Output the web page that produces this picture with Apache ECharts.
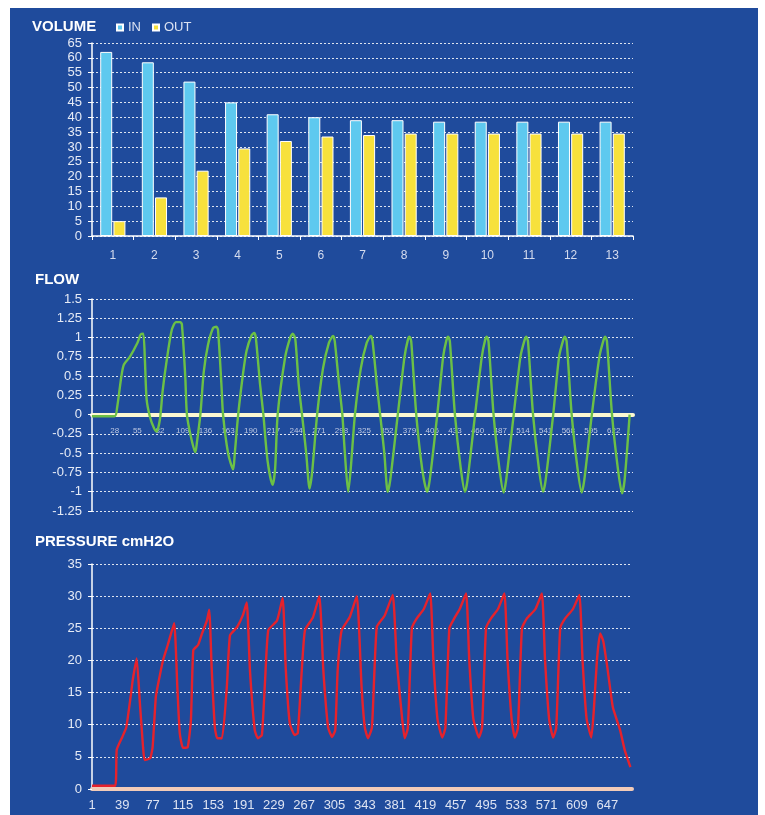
<!DOCTYPE html>
<html>
<head>
<meta charset="utf-8">
<script src="https://cdn.jsdelivr.net/npm/echarts@6/dist/echarts.min.js"></script>
<style>
html,body{margin:0;padding:0;background:#ffffff;}
#chart{width:765px;height:815px;}
</style>
</head>
<body>
<div id="chart"></div>
<script>
// ---------- DATA ----------
const volumeCategories = ['1','2','3','4','5','6','7','8','9','10','11','12','13'];
const volumeIn  = [62, 58.5, 52, 45, 41, 40, 39, 39, 38.5, 38.5, 38.5, 38.5, 38.5];
const volumeOut = [5, 13, 22, 29.5, 32, 33.5, 34, 34.5, 34.5, 34.5, 34.5, 34.5, 34.5];
const volumeTicks = [0, 65, 5];

const flowCount = 645;       // number of samples on the flow axis
const flowLabelStep = 27;    // 1, 28, 55, ...
const flowTicks = [-1.25, 1.5, 0.25];
// [sample index, flow] key points
const flowPoints = [
 [0,-0.02],[27,-0.02],[30,0.1],[35,0.5],[38,0.65],[45,0.75],[54,0.93],[58,1.04],[61,1.05],[63,0.7],[65,0.2],[69,-0.03],[74,-0.18],[77,-0.22],
 [81,-0.05],[84,0.3],[89,0.71],[95,1.1],[100,1.2],[105,1.2],[107,1.17],[111,0.5],[113,0],[118,-0.3],[123,-0.49],
 [125,-0.35],[129,0],[133,0.55],[138,0.9],[144,1.12],[148,1.14],[150,1.1],[154,0.4],[156,0],[162,-0.5],[168,-0.71],
 [170,-0.5],[174,0],[180,0.55],[184,0.83],[190,1.03],[193,1.06],[195,1.0],[200,0.4],[204,0],[209,-0.6],[215,-0.91],
 [218,-0.7],[221,0],[230,0.75],[236,1.0],[239,1.05],[242,0.98],[246,0.4],[250,0],[255,-0.5],[259,-0.96],
 [262,-0.75],[268,0],[275,0.6],[282,0.93],[287,1.02],[289,0.95],[294,0.4],[298,0],[301,-0.5],[305,-1.0],
 [308,-0.7],[313,0],[320,0.6],[327,0.93],[332,1.02],[334,0.95],[339,0.4],[343,0],[348,-0.5],[352,-1.0],
 [355,-0.85],[364,0],[372,0.75],[376,0.97],[378,1.01],[380,0.95],[386,0],[393,-0.7],[399,-1.0],
 [402,-0.85],[411,0],[418,0.75],[422,0.97],[424,1.01],[426,0.95],[432,0],[439,-0.7],[444,-1.0],
 [447,-0.85],[456,0],[464,0.75],[468,0.97],[470,1.01],[472,0.95],[478,0],[485,-0.7],[490,-1.01],
 [493,-0.85],[502,0],[510,0.75],[515,0.97],[517,1.01],[519,0.95],[525,0],[532,-0.7],[537,-1.0],
 [540,-0.85],[549,0],[556,0.75],[561,0.97],[563,1.01],[565,0.95],[571,0],[578,-0.7],[583,-1.01],
 [586,-0.85],[595,0],[604,0.75],[609,0.97],[611,1.01],[613,0.95],[619,0],[626,-0.7],[631,-1.02],
 [634,-0.85],[640,0]
];

const pressureCount = 678;   // number of samples on the pressure axis
const pressureLabelStep = 38; // 1, 39, 77, ...
const pressureTicks = [0, 35, 5];
// [sample index, cmH2O] key points
const pressurePoints = [
 [0,0.5],[29,0.5],[31,6.1],[38,8.1],[43,9.6],[49,14.9],[51,16.9],[56,20.3],[60,13.4],[64,6.5],[66,4.5],[73,4.8],[76,6.5],
 [80,14.3],[83,16.4],[89,20],[95,22.4],[103,25.8],[107,15.8],[110,8.7],[114,6.4],[120,6.5],[124,10.7],
 [127,21.6],[133,22.4],[138,24.2],[144,26.2],[147,27.9],[150,18.9],[154,9.6],[157,7.9],[163,7.9],
 [169,15.8],[173,23.9],[182,25.2],[189,27],[194,29],[198,18.5],[204,9.2],[208,7.9],[213,8.4],
 [217,16.9],[221,24.7],[232,26.2],[239,29.7],[243,18.5],[248,10.2],[254,8.4],[258,8.7],
 [263,18.5],[267,24.7],[277,26.7],[285,30],[290,18.5],[296,9.6],[301,8.1],[305,9.2],
 [308,18.5],[313,24.7],[323,26.7],[332,30],[338,15.8],[342,9.6],[346,7.9],[351,9.6],
 [357,25.2],[367,27],[377,30.2],[382,20],[389,10.7],[392,7.9],
 [396,9.5],[401,25],[407,26.5],[416,28],[424,30.4],[428,20],[433,11],[439,8],
 [443,9.5],[448,25],[454,26.5],[461,28],[469,30.4],[473,20],[478,11],[485,8],
 [489,9.5],[494,25],[500,26.5],[509,28],[517,30.4],[521,20],[526,11],[530,8],
 [534,9.5],[539,25],[545,26.5],[556,28],[564,30.4],[568,20],[573,11],[578,8],
 [582,9.5],[587,25],[593,26.5],[603,28],[611,30.2],[615,20],[620,11],[626,8],
 [629,12],[633,20],[637,24.2],[641,23],[646,19],[653,12.7],[662,9.2],[668,6],[675,3.4]
];

// ---------- CHART ----------
const flowCategories = Array.from({length: flowCount}, (_, i) => String(i + 1));
const pressureCategories = Array.from({length: pressureCount}, (_, i) => String(i + 1));

const FONT = 'Liberation Sans, Arial, sans-serif';
const labelColor = '#e6ebf6';
const titleStyle = {color: '#ffffff', fontSize: 15, fontWeight: 'bold', fontFamily: FONT};
const gridLine = {show: true, lineStyle: {color: 'rgba(255,255,255,0.85)', width: 1, type: [2, 2]}};
const yAxisBase = (gi, t) => ({
  type: 'value', gridIndex: gi, min: t[0], max: t[1], interval: t[2],
  axisLine: {show: true, lineStyle: {color: '#ffffff', width: 1.5}},
  axisTick: {show: true, length: 4, lineStyle: {color: '#ffffff', width: 1}},
  axisLabel: {color: labelColor, fontSize: 13, fontFamily: FONT, margin: 10},
  splitLine: gridLine
});

const chart = echarts.init(document.getElementById('chart'), null, {renderer: 'canvas'});
chart.setOption({
  backgroundColor: '#ffffff',
  animation: false,
  graphic: [{
    type: 'rect', z: -10, silent: true,
    shape: {x: 10, y: 8, width: 748, height: 815},
    style: {fill: '#1f4b9c'}
  }],
  title: [
    {text: 'VOLUME', left: 27, top: 14, textStyle: titleStyle},
    {text: 'FLOW', left: 30, top: 267, textStyle: titleStyle},
    {text: 'PRESSURE cmH2O', left: 30, top: 529, textStyle: titleStyle}
  ],
  legend: {
    left: 111, top: 16, itemWidth: 6, itemHeight: 6, itemGap: 11, icon: 'rect',
    textStyle: {color: '#dbe2f2', fontSize: 13, fontFamily: FONT},
    data: ['IN', 'OUT']
  },
  grid: [
    {left: 92, right: 132, top: 43, height: 193},
    {left: 92, right: 132, top: 299, height: 212},
    {left: 92, right: 133, top: 564, height: 225}
  ],
  xAxis: [
    {
      type: 'category', gridIndex: 0, data: volumeCategories,
      axisLine: {lineStyle: {color: '#ffffff', width: 1.5}},
      axisTick: {show: true, length: 4, lineStyle: {color: '#ffffff'}},
      axisLabel: {color: '#d5dcee', fontSize: 12, fontFamily: FONT, margin: 14}
    },
    {
      type: 'category', gridIndex: 1, data: flowCategories, boundaryGap: false,
      axisLine: {onZero: false, lineStyle: {color: '#fbf8d2', width: 4}},
      axisTick: {show: false},
      axisLabel: {
        color: '#bcc7e2', fontSize: 8, fontFamily: FONT, margin: 12,
        interval: (i) => i > 0 && i % flowLabelStep === 0
      }
    },
    {
      type: 'category', gridIndex: 2, data: pressureCategories, boundaryGap: false,
      axisLine: {lineStyle: {color: '#f2cbb8', width: 4}},
      axisTick: {show: false},
      axisLabel: {
        color: '#dde3f2', fontSize: 13, fontFamily: FONT, margin: 10,
        interval: (i) => i % pressureLabelStep === 0
      }
    }
  ],
  yAxis: [
    yAxisBase(0, volumeTicks),
    yAxisBase(1, flowTicks),
    yAxisBase(2, pressureTicks)
  ],
  series: [
    {
      name: 'IN', type: 'bar', xAxisIndex: 0, yAxisIndex: 0, data: volumeIn,
      barWidth: 12, barGap: '10%',
      itemStyle: {color: '#5ec9ef', borderColor: '#ffffff', borderWidth: 1}
    },
    {
      name: 'OUT', type: 'bar', xAxisIndex: 0, yAxisIndex: 0, data: volumeOut,
      barWidth: 12, barGap: '10%',
      itemStyle: {color: '#f7e13c', borderColor: '#ffffff', borderWidth: 1}
    },
    {
      name: 'FLOW', type: 'line', xAxisIndex: 1, yAxisIndex: 1, data: flowPoints,
      showSymbol: false, smooth: 0.25, z: 5,
      lineStyle: {color: '#6cc046', width: 2.4}
    },
    {
      name: 'PRESSURE', type: 'line', xAxisIndex: 2, yAxisIndex: 2, data: pressurePoints,
      showSymbol: false, smooth: 0.15, z: 5,
      lineStyle: {color: '#e5222c', width: 2.4}
    }
  ]
});

// Move the flow category axis (line + labels) up to the y = 0 level of its value axis.
const zeroPx = chart.convertToPixel({yAxisIndex: 1}, 0);
const bottomPx = chart.convertToPixel({yAxisIndex: 1}, flowTicks[0]);
chart.setOption({xAxis: [{}, {offset: -(bottomPx - zeroPx)}, {}]});
</script>
</body>
</html>
